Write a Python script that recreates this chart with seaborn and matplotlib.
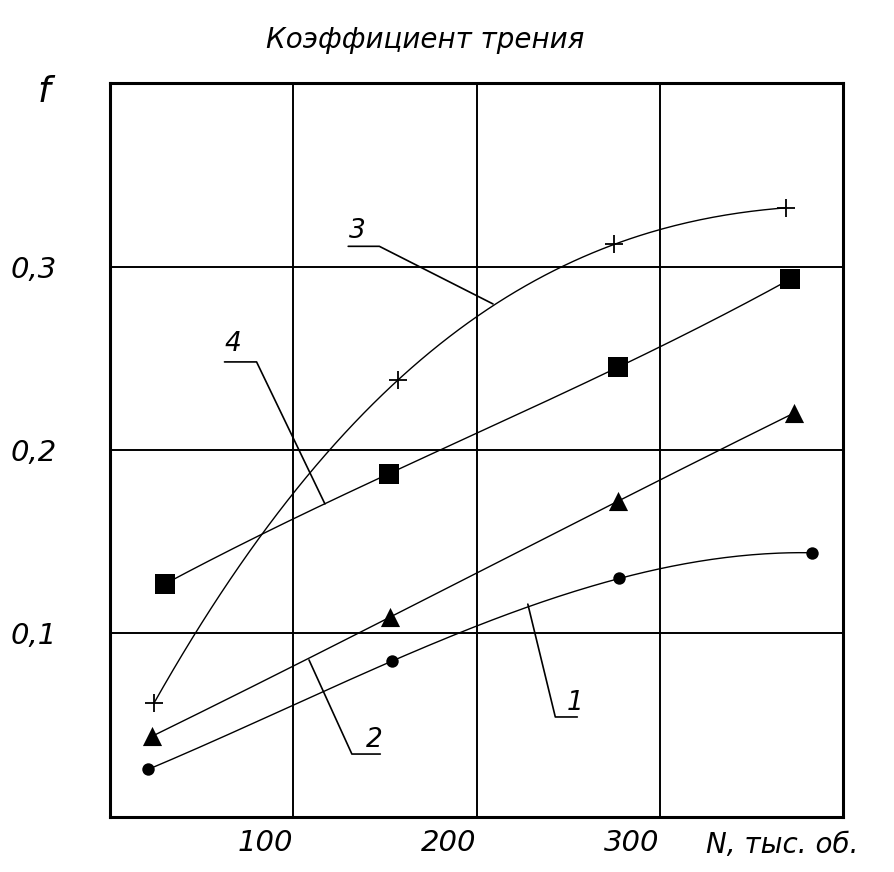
import numpy as np
import pandas as pd
import seaborn as sns
import matplotlib.pyplot as plt

sns.set_style('white')
plt.rcParams['font.family'] = ['Liberation Sans Narrow', 'DejaVu Sans']
plt.rcParams['font.style'] = 'italic'
plt.rcParams['text.color'] = 'black'

# N, thousand revolutions
n_1 = [21, 154, 278, 383]
f_1 = [0.026, 0.085, 0.130, 0.144]
n_2 = [23, 153, 277, 373]
f_2 = [0.044, 0.109, 0.172, 0.220]
n_3 = [24, 157, 275, 369]
f_3 = [0.062, 0.238, 0.312, 0.332]
n_4 = [30, 152, 277, 371]
f_4 = [0.127, 0.187, 0.245, 0.293]

x_ticks = [100, 200, 300]
x_ticklabels = ['100', '200', '300']
y_ticks = [0.1, 0.2, 0.3]
y_ticklabels = ['0,1', '0,2', '0,3']

title = 'Коэффициент трения'
x_label = 'N, тыс. об.'
y_label = 'f'

series = [
    ('1', n_1, f_1, 'o', 80),
    ('2', n_2, f_2, '^', 190),
    ('3', n_3, f_3, '+', 150),
    ('4', n_4, f_4, 's', 220),
]

# leader lines: (label, text pos, polyline)
leaders = [
    ('1', (254, 0.0548), [(228, 0.116), (243, 0.0545), (255, 0.0545)]),
    ('2', (144, 0.0350), [(108.6, 0.0856), (132, 0.0343), (147.5, 0.0343)]),
    ('3', (135, 0.3125), [(209, 0.2796), (147, 0.311), (130, 0.311)]),
    ('4', (67, 0.2505), [(117.3, 0.1706), (80, 0.248), (62.5, 0.248)]),
]

fig = plt.figure(figsize=(8.94, 8.72), dpi=100)
ax = fig.add_axes([0.123, 0.0631, 0.820, 0.8417])

for name, n, f, mk, sz in series:
    # smooth curve through the measured points
    c = np.polyfit(n, f, len(n) - 1)
    xs = np.linspace(n[0], n[-1], 200)
    ax.plot(xs, np.polyval(c, xs), color='black', lw=1.0, zorder=3)
    df = pd.DataFrame({'N': n, 'f': f})
    if mk == '+':
        sns.scatterplot(data=df, x='N', y='f', marker='+', s=sz, color='black',
                        linewidth=1.3, ax=ax, zorder=4)
    else:
        sns.scatterplot(data=df, x='N', y='f', marker=mk, s=sz, color='black',
                        edgecolor='black', linewidth=0, ax=ax, zorder=4)

for lab, (tx, ty), pts in leaders:
    px, py = zip(*pts)
    ax.plot(px, py, color='black', lw=1.2, zorder=3)
    ax.text(tx, ty, lab, ha='center', va='bottom', fontsize=19, color='black')

ax.set_xlim(0, 400)
ax.set_ylim(0, 0.4)
ax.set_xticks(x_ticks)
ax.set_xticklabels(x_ticklabels, ha='right', fontsize=21)
ax.set_yticks(y_ticks)
ax.set_yticklabels(y_ticklabels, fontsize=21)
ax.tick_params(axis='both', labelcolor='black')
ax.tick_params(axis='x', length=0, pad=9)
ax.tick_params(axis='y', length=0, pad=38)
ax.set_xlabel('')
ax.set_ylabel('')
ax.grid(True, color='black', lw=1.4)
for sp in ax.spines.values():
    sp.set_color('black')
    sp.set_linewidth(2.2)

fig.text(425 / 894, 1 - 40 / 872, title, ha='center', va='center', fontsize=20, color='black')
fig.text(858 / 894, 1 - 845 / 872, x_label, ha='right', va='center', fontsize=20, color='black')
fig.text(44 / 894, 1 - 92 / 872, y_label, ha='center', va='center', fontsize=26, color='black')

fig.savefig('out.png', dpi=100)
